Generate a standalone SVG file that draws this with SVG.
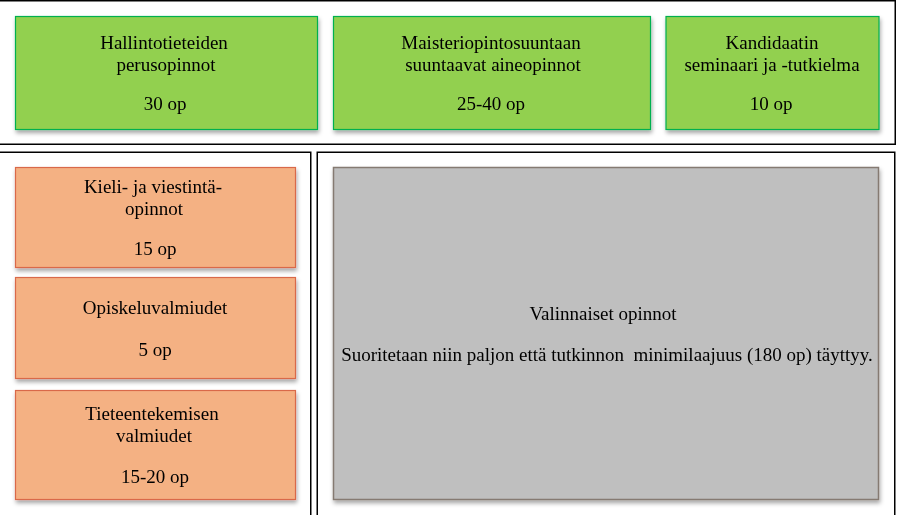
<svg xmlns="http://www.w3.org/2000/svg" width="897" height="515" viewBox="0 0 897 515">
<defs>
<filter id="sh" x="-5%" y="-5%" width="112%" height="120%">
<feDropShadow dx="1" dy="3" stdDeviation="2" flood-color="#000" flood-opacity="0.35"/>
</filter>
<style>
.frame{fill:none;stroke:#000;stroke-width:1.5}
.green{fill:#92D050;stroke:#00B050;stroke-width:1.2}
.orange{fill:#F4B183;stroke:#D9694A;stroke-width:1.2}
.gray{fill:#BFBFBF;stroke:#857A72;stroke-width:1.5}
text{font-family:"Liberation Serif","DejaVu Serif",serif;font-size:19px;fill:#000;text-anchor:middle}
</style>
</defs>
<rect width="897" height="515" fill="#fff"/>
<g id="frames">
<rect class="frame" x="-5" y="0.75" width="900.25" height="143.5"/>
<rect class="frame" x="-5" y="152.25" width="315.75" height="370"/>
<rect class="frame" x="317.25" y="152.25" width="577.5" height="370"/>
</g>
<g id="connectors"></g>
<g id="n-hallinto" filter="url(#sh)">
<rect class="green" x="15.5" y="16.5" width="302" height="113"/>
<text x="164" y="49">Hallintotieteiden</text>
<text x="166" y="71">perusopinnot</text>
<text x="165" y="110">30 op</text>
</g>
<g id="n-maisteri" filter="url(#sh)">
<rect class="green" x="333.5" y="16.5" width="317" height="113"/>
<text x="491" y="49">Maisteriopintosuuntaan</text>
<text x="493" y="71">suuntaavat aineopinnot</text>
<text x="491" y="110">25-40 op</text>
</g>
<g id="n-kandidaatin" filter="url(#sh)">
<rect class="green" x="666" y="16.5" width="213" height="113"/>
<text x="772" y="49">Kandidaatin</text>
<text x="772" y="71">seminaari ja -tutkielma</text>
<text x="771" y="110">10 op</text>
</g>
<g id="n-kieli" filter="url(#sh)">
<rect class="orange" x="15.5" y="167.5" width="280" height="100"/>
<text x="153" y="193">Kieli- ja viestintä-</text>
<text x="154" y="215">opinnot</text>
<text x="155" y="255">15 op</text>
</g>
<g id="n-opiskelu" filter="url(#sh)">
<rect class="orange" x="15.5" y="277.5" width="280" height="101"/>
<text x="155" y="314">Opiskeluvalmiudet</text>
<text x="155" y="356">5 op</text>
</g>
<g id="n-tiede" filter="url(#sh)">
<rect class="orange" x="15.5" y="390.5" width="280" height="109"/>
<text x="152" y="420">Tieteentekemisen</text>
<text x="154" y="442">valmiudet</text>
<text x="155" y="483">15-20 op</text>
</g>
<g id="n-valinnaiset" filter="url(#sh)">
<rect class="gray" x="333.5" y="167.5" width="545" height="332"/>
<text x="603" y="320">Valinnaiset opinnot</text>
<text x="607" y="361" xml:space="preserve">Suoritetaan niin paljon että tutkinnon  minimilaajuus (180 op) täyttyy.</text>
</g>
</svg>
